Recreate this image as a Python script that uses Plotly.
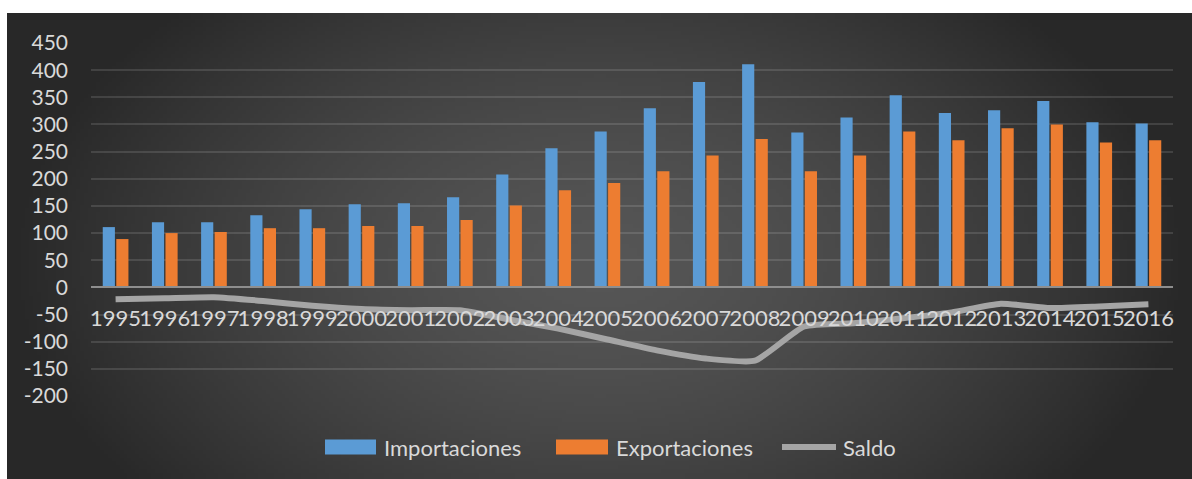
import base64
import struct
import zlib

import numpy as np
import plotly.graph_objects as go

# ---- data -------------------------------------------------------------
years = [str(y) for y in range(1995, 2017)]
importaciones = [111, 120, 120, 133, 144, 153, 155, 166, 208, 256, 287,
                 330, 378, 411, 285, 313, 354, 321, 326, 343, 304, 302]
exportaciones = [89, 100, 102, 109, 109, 113, 113, 124, 151, 179, 192,
                 214, 243, 273, 214, 243, 287, 271, 293, 300, 267, 271]
saldo = [-22, -20, -18, -25, -34, -40, -42, -42, -59, -76, -96,
         -116, -131, -135, -72, -66, -57, -46, -30, -38, -35, -31]
y_ticks = list(range(-200, 451, 50))
y_min, y_max = -200, 450

# ---- geometry (pixels) --------------------------------------------------
W, H = 1192, 479
PL, PR, PT, PB = 91, 1173, 43, 396          # plot area edges
PANEL = (7, 13, 1192, 479)                   # dark chart panel

def fx(px):
    return (px - PL) / (PR - PL)

def fy(py):
    return (PB - py) / (PB - PT)

# ---- radial background for the dark panel -------------------------------
def png_uri(arr):
    h, w, _ = arr.shape
    raw = b"".join(b"\x00" + arr[i].tobytes() for i in range(h))

    def chunk(tag, data):
        body = tag + data
        return struct.pack(">I", len(data)) + body + struct.pack(">I", zlib.crc32(body) & 0xFFFFFFFF)

    png = (b"\x89PNG\r\n\x1a\n"
           + chunk(b"IHDR", struct.pack(">IIBBBBB", w, h, 8, 2, 0, 0, 0))
           + chunk(b"IDAT", zlib.compress(raw, 9))
           + chunk(b"IEND", b""))
    return "data:image/png;base64," + base64.b64encode(png).decode()

gw, gh = 300, 118
gx = np.linspace(-1, 1, gw)[None, :]
gy = np.linspace(-1, 1, gh)[:, None]
t = np.clip(np.sqrt(gx ** 2 + ((gy - 0.08) / 1.6) ** 2), 0, 1) ** 1.5
inner, outer = 86, 40
level = (inner - (inner - outer) * t).astype(np.uint8)
bg = np.repeat(level[:, :, None], 3, axis=2)
bg_uri = png_uri(np.ascontiguousarray(bg))

# ---- figure -------------------------------------------------------------
FONT = "Lato"
TXT = "#d9d9d9"

fig = go.Figure()
fig.add_trace(go.Bar(x=years, y=importaciones, name="Importaciones",
                     marker=dict(color="#5b9bd5", line=dict(width=0))))
fig.add_trace(go.Bar(x=years, y=exportaciones, name="Exportaciones",
                     marker=dict(color="#ed7d31", line=dict(width=0))))
fig.add_trace(go.Scatter(x=years, y=saldo, name="Saldo", mode="lines",
                         line=dict(color="#a5a5a5", width=6, shape="spline", smoothing=0.5)))

fig.update_layout(
    width=W, height=H,
    margin=dict(l=PL, r=W - PR, t=PT, b=H - PB, pad=0, autoexpand=False),
    paper_bgcolor="white",
    plot_bgcolor="rgba(0,0,0,0)",
    barmode="group", bargap=0.45, bargroupgap=0.1,
    showlegend=False,
    hovermode=False,
    font=dict(family=FONT, color=TXT, size=21),
    images=[dict(source=bg_uri, xref="paper", yref="paper",
                 x=fx(PANEL[0]), y=fy(PANEL[1]),
                 sizex=fx(PANEL[2]) - fx(PANEL[0]), sizey=fy(PANEL[1]) - fy(PANEL[3]),
                 xanchor="left", yanchor="top", sizing="stretch", layer="below")],
)

fig.update_yaxes(range=[y_min, y_max], tickvals=y_ticks, ticktext=[str(v) for v in y_ticks],
                 showgrid=True, gridcolor="rgba(255,255,255,0.12)", gridwidth=2,
                 zeroline=False, showline=False, ticks="", automargin=False,
                 tickfont=dict(family=FONT, size=21, color=TXT), ticklabelstandoff=22)

fig.update_xaxes(type="category", anchor="free", position=(0 - y_min) / (y_max - y_min),
                 showline=True, linecolor="#8e8e8e", linewidth=2, showgrid=False,
                 ticks="", tickangle=0, automargin=False,
                 tickfont=dict(family=FONT, size=22, color=TXT),
                 ticklabelstandoff=11)

# legend row drawn under the plot
legend_y = 447
swatches = [
    ("rect", 325, 376, "#5b9bd5", "Importaciones", 382),
    ("rect", 556, 608, "#ed7d31", "Exportaciones", 614),
    ("line", 782, 836, "#a5a5a5", "Saldo", 841),
]
for kind, x0, x1, color, label, tx in swatches:
    if kind == "rect":
        fig.add_shape(type="rect", xref="paper", yref="paper",
                      x0=fx(x0), x1=fx(x1), y0=fy(legend_y + 7.5), y1=fy(legend_y - 7.5),
                      fillcolor=color, line=dict(width=0), layer="above")
    else:
        fig.add_shape(type="line", xref="paper", yref="paper",
                      x0=fx(x0), x1=fx(x1), y0=fy(legend_y), y1=fy(legend_y),
                      line=dict(color=color, width=6), layer="above")
    fig.add_annotation(text=label, xref="paper", yref="paper", x=fx(tx), y=fy(legend_y),
                       xanchor="left", yanchor="middle", showarrow=False,
                       font=dict(family=FONT, size=22, color=TXT))

fig.write_html("out.html", config=dict(displayModeBar=False))
